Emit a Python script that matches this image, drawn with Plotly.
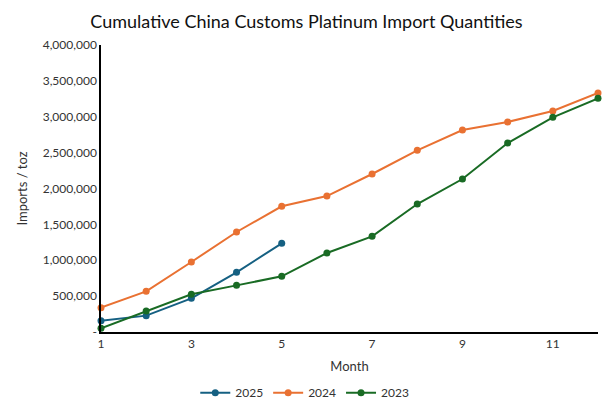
import plotly.graph_objects as go

# Cumulative monthly imports (toz)
months = list(range(1, 13))
imports_2025 = [158000, 228000, 469000, 832000, 1236000]
imports_2024 = [339000, 567000, 976000, 1394000, 1752000, 1895000,
                2202000, 2532000, 2815000, 2927000, 3080000, 3331000]
imports_2023 = [51000, 293000, 525000, 650000, 776000, 1101000,
                1333000, 1784000, 2132000, 2634000, 2992000, 3257000]

y_ticks = [0, 500000, 1000000, 1500000, 2000000, 2500000, 3000000, 3500000, 4000000]
y_tick_text = ['-'] + [f'{v:,}' for v in y_ticks[1:]]

series = [
    ('2025', imports_2025, '#156082'),
    ('2024', imports_2024, '#E97132'),
    ('2023', imports_2023, '#196B24'),
]

fig = go.Figure()
for name, vals, color in series:
    fig.add_trace(go.Scatter(
        x=months[:len(vals)], y=vals, name=name,
        mode='lines+markers',
        line=dict(color=color, width=2),
        marker=dict(color=color, size=7),
        cliponaxis=False,
    ))

font_family = 'Lato, Open Sans, sans-serif'

# page body has an 8px margin, so the figure is sized to fit inside it
fig.update_layout(
    width=597, height=400,
    margin=dict(l=93, r=7, t=37, b=76, autoexpand=False),
    paper_bgcolor='white', plot_bgcolor='white',
    font=dict(family=font_family, size=12, color='#333333'),
    title=dict(text='Cumulative China Customs Platinum Import Quantities',
               x=0.5, xanchor='center', y=0.966, yanchor='middle',
               font=dict(size=18, color='#111111')),
    xaxis=dict(range=[1, 12], tickvals=[1, 3, 5, 7, 9, 11],
               showgrid=False, zeroline=False, automargin=False,
               showline=True, linecolor='black', linewidth=1.5,
               ticks='', tickfont=dict(size=12, color='#333333'),
               title=dict(text='Month', font=dict(size=13, color='#333333'), standoff=12)),
    yaxis=dict(range=[0, 4000000], tickvals=y_ticks, ticktext=y_tick_text,
               showgrid=False, zeroline=False, automargin=False,
               showline=True, linecolor='black', linewidth=1.5,
               ticks='', ticklen=0, tickfont=dict(size=12, color='#333333'),
               title=dict(text='Imports / toz', font=dict(size=13, color='#333333'), standoff=12)),
    legend=dict(orientation='h', x=0.41, xanchor='center', y=-0.262, yanchor='bottom',
                font=dict(size=12, color='#333333'), itemwidth=30, tracegroupgap=0),
    showlegend=True,
)

fig.write_html("out.html")
